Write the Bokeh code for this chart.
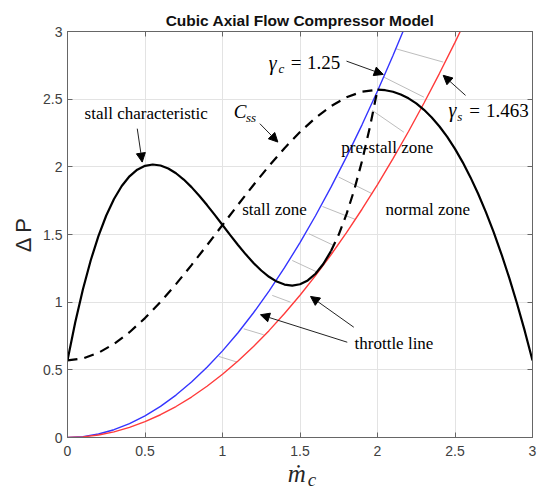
from bokeh.plotting import figure
from bokeh.models import Label, Arrow, NormalHead, LinearAxis, FixedTicker, Range1d
from bokeh.embed import file_html
from bokeh.resources import INLINE

# ---------------- data ----------------
# stall characteristic (solid part)
stall_x = [0.00, 0.05, 0.10, 0.15, 0.20, 0.25, 0.30, 0.35, 0.40, 0.45, 0.50, 0.55,
           0.60, 0.65, 0.70, 0.75, 0.80, 0.85, 0.90, 0.95, 1.00, 1.05, 1.10, 1.15,
           1.20, 1.25, 1.30, 1.35, 1.40, 1.45, 1.50, 1.55, 1.60, 1.65, 1.70]
stall_y = [0.57, 0.8516, 1.0975, 1.3097, 1.49, 1.6403, 1.7625, 1.8584, 1.93, 1.9791,
           2.0075, 2.0172, 2.01, 1.9878, 1.9525, 1.9059, 1.85, 1.7866, 1.7175, 1.6447,
           1.57, 1.4953, 1.4225, 1.3534, 1.29, 1.2341, 1.1875, 1.1522, 1.13, 1.1228,
           1.1325, 1.1609, 1.21, 1.2816, 1.3775]
# stall characteristic (dashed, unstable part)
stall_dash_x = [1.70, 1.75, 1.80, 1.85, 1.90, 1.95, 2.00]
stall_dash_y = [1.3775, 1.4997, 1.65, 1.8303, 2.0425, 2.2884, 2.57]
# C_ss (dashed part of compressor characteristic)
css_x = [0.0, 0.1, 0.2, 0.3, 0.4, 0.5, 0.6, 0.7, 0.8, 0.9, 1.0, 1.1, 1.2, 1.3, 1.4,
         1.5, 1.6, 1.7, 1.8, 1.9, 2.0]
css_y = [0.57, 0.5845, 0.626, 0.6915, 0.778, 0.8825, 1.002, 1.1335, 1.274, 1.4205,
         1.57, 1.7195, 1.866, 2.0065, 2.138, 2.2575, 2.362, 2.4485, 2.514, 2.5555, 2.57]
# compressor characteristic (solid, stable part)
comp_x = [2.00, 2.05, 2.10, 2.15, 2.20, 2.25, 2.30, 2.35, 2.40, 2.45, 2.50, 2.55,
          2.60, 2.65, 2.70, 2.75, 2.80, 2.85, 2.90, 2.95, 3.00]
comp_y = [2.57, 2.5662, 2.5545, 2.5346, 2.506, 2.4684, 2.4215, 2.3648, 2.298, 2.2207,
          2.1325, 2.0331, 1.922, 1.7989, 1.6635, 1.5153, 1.354, 1.1792, 0.9905, 0.7876, 0.57]
# throttle line gamma_c = 1.25 (blue)
blue_x = [0.0, 0.1, 0.2, 0.3, 0.4, 0.5, 0.6, 0.7, 0.8, 0.9, 1.0, 1.1, 1.2, 1.3, 1.4,
          1.5, 1.6, 1.7, 1.8, 1.9, 2.0, 2.1, 2.2]
blue_y = [0.0, 0.0064, 0.0256, 0.0576, 0.1024, 0.16, 0.2304, 0.3136, 0.4096, 0.5184,
          0.64, 0.7744, 0.9216, 1.0816, 1.2544, 1.44, 1.6384, 1.8496, 2.0736, 2.3104,
          2.56, 2.8224, 3.0976]
# throttle line gamma_s = 1.463 (red)
red_x = [0.0, 0.1, 0.2, 0.3, 0.4, 0.5, 0.6, 0.7, 0.8, 0.9, 1.0, 1.1, 1.2, 1.3, 1.4,
         1.5, 1.6, 1.7, 1.8, 1.9, 2.0, 2.1, 2.2, 2.3, 2.4, 2.5, 2.6]
red_y = [0.0, 0.0047, 0.0187, 0.0420, 0.0748, 0.1168, 0.1682, 0.2289, 0.2990, 0.3784,
         0.4672, 0.5653, 0.6728, 0.7896, 0.9157, 1.0512, 1.1960, 1.3502, 1.5137, 1.6866,
         1.8688, 2.0604, 2.2612, 2.4715, 2.6911, 2.9200, 3.1583]
# gray hatch segments between the two throttle lines
hatch_x0 = [2.116, 2.041, 1.966, 1.750, 1.645, 1.557, 1.450, 1.321, 1.137, 0.976]
hatch_y0 = [2.873, 2.663, 2.417, 1.924, 1.707, 1.506, 1.308, 1.050, 0.803, 0.599]
hatch_x1 = [2.424, 2.299, 2.170, 1.966, 1.858, 1.718, 1.611, 1.439, 1.266, 1.095]
hatch_y1 = [2.774, 2.515, 2.256, 1.801, 1.611, 1.419, 1.222, 1.000, 0.759, 0.557]

tick_values = [0, 0.5, 1, 1.5, 2, 2.5, 3]
tick_labels = ["0", "0.5", "1", "1.5", "2", "2.5", "3"]

# ---------------- figure ----------------
AX = "#666666"
SERIF = "Liberation Serif"
p = figure(width=542, height=493, output_backend="svg", toolbar_location=None,
           x_range=Range1d(0, 3), y_range=Range1d(0, 3),
           min_border_left=67, min_border_right=10, min_border_top=31, min_border_bottom=56)
p.background_fill_color = "white"
p.border_fill_color = "white"
p.outline_line_color = AX
p.outline_line_width = 1

p.title.text = "Cubic Axial Flow Compressor Model"
p.title.align = "center"
p.title.text_font = "Liberation Sans"
p.title.text_font_size = "15.5px"
p.title.text_font_style = "bold"
p.title.text_color = "#111111"
p.title.standoff = 6

overrides = {v: s for v, s in zip(tick_values, tick_labels)}
for ax in (p.xaxis[0], p.yaxis[0]):
    ax.ticker = FixedTicker(ticks=tick_values)
    ax.major_label_overrides = overrides
    ax.major_tick_in = 5
    ax.major_tick_out = 0
    ax.minor_tick_line_color = None
    ax.axis_line_color = AX
    ax.major_tick_line_color = AX
    ax.major_label_text_font = "Liberation Sans"
    ax.major_label_text_font_size = "14px"
    ax.major_label_text_color = "#404040"
p.xaxis[0].major_label_standoff = 8
p.yaxis[0].major_label_standoff = 5

# axis labels
p.yaxis[0].axis_label = "\u0394 P"
p.yaxis[0].axis_label_text_font = "Liberation Sans"
p.yaxis[0].axis_label_text_font_size = "22px"
p.yaxis[0].axis_label_text_font_style = "normal"
p.yaxis[0].axis_label_text_color = "#262626"
p.yaxis[0].axis_label_standoff = 4

p.xaxis[0].axis_label = "\u1e41\u00a0"
p.xaxis[0].axis_label_text_font = SERIF
p.xaxis[0].axis_label_text_font_size = "25px"
p.xaxis[0].axis_label_text_font_style = "italic"
p.xaxis[0].axis_label_text_color = "#262626"
p.xaxis[0].axis_label_standoff = 1

# subscript "c" of the x label: a tick-less axis stacked below
sub_ax = LinearAxis(ticker=FixedTicker(ticks=[]))
sub_ax.axis_line_color = None
sub_ax.major_tick_line_color = None
sub_ax.minor_tick_line_color = None
sub_ax.major_label_standoff = 0
sub_ax.axis_label = "\u00a0\u00a0\u00a0\u00a0\u00a0c"
sub_ax.axis_label_text_font = SERIF
sub_ax.axis_label_text_font_size = "19px"
sub_ax.axis_label_text_font_style = "italic"
sub_ax.axis_label_text_color = "#262626"
sub_ax.axis_label_standoff = -21
p.add_layout(sub_ax, "below")

# tick marks on top and right sides (box), without labels
for loc in ("above", "right"):
    ax = LinearAxis(ticker=FixedTicker(ticks=tick_values))
    ax.major_label_overrides = {v: "" for v in tick_values}
    ax.major_label_text_font_size = "1px"
    ax.major_label_text_color = None
    ax.major_label_standoff = 0
    ax.major_tick_in = 5
    ax.major_tick_out = 0
    ax.minor_tick_line_color = None
    ax.axis_line_color = AX
    ax.major_tick_line_color = AX
    p.add_layout(ax, loc)

for g in (p.xgrid[0], p.ygrid[0]):
    g.ticker = FixedTicker(ticks=tick_values)
    g.grid_line_color = "#e3e3e3"
    g.grid_line_width = 1

# ---------------- marks ----------------
p.segment(x0=hatch_x0, y0=hatch_y0, x1=hatch_x1, y1=hatch_y1,
          line_color="#bdbdbd", line_width=1)
p.line(blue_x, blue_y, line_color="#3535ff", line_width=1.4)
p.line(red_x, red_y, line_color="#ff3b3b", line_width=1.4)
p.line(css_x, css_y, line_color="black", line_width=2.2, line_dash="10 7")
p.line(stall_dash_x, stall_dash_y, line_color="black", line_width=2.2, line_dash="10 7")
p.line(stall_x, stall_y, line_color="black", line_width=2.2)
p.line(comp_x, comp_y, line_color="black", line_width=2.2)


# ---------------- annotations ----------------
def lab(x, y, t, size, font=SERIF, style="normal", align="left", color="black"):
    p.add_layout(Label(x=x, y=y, text=t, text_font=font, text_font_size=size,
                       text_font_style=style, text_align=align, text_baseline="middle",
                       text_color=color))


def arrow(xs, ys, xe, ye):
    p.add_layout(Arrow(end=NormalHead(size=9, fill_color="black", line_color="black"),
                       x_start=xs, y_start=ys, x_end=xe, y_end=ye,
                       line_color="#222222", line_width=1))


lab(0.11, 2.397, "stall characteristic", "17px")
arrow(0.45, 2.282, 0.482, 2.035)

lab(1.073, 2.41, "C", "19px", style="italic")
lab(1.152, 2.362, "ss", "13px", style="italic")
arrow(1.241, 2.319, 1.357, 2.183)

lab(1.299, 2.769, "\u03b3", "20px", style="italic")
lab(1.362, 2.725, "c", "13px", style="italic")
lab(1.440, 2.769, "=", "19px")
lab(1.545, 2.769, "1.25", "19px")
arrow(1.80, 2.781, 2.037, 2.683)

lab(2.458, 2.417, "\u03b3", "20px", style="italic")
lab(2.515, 2.373, "s", "13px", style="italic")
lab(2.592, 2.417, "=", "19px")
lab(2.700, 2.417, "1.463", "19px")
arrow(2.568, 2.528, 2.424, 2.676)

lab(1.766, 2.146, "pre-stall zone", "17px")
lab(1.127, 1.685, "stall zone", "17px")
lab(2.052, 1.685, "normal zone", "17px")

lab(1.852, 0.697, "throttle line", "17px")
arrow(1.847, 0.815, 1.568, 1.042)
arrow(1.805, 0.704, 1.245, 0.907)

open("out.html", "w").write(file_html(p, INLINE))
